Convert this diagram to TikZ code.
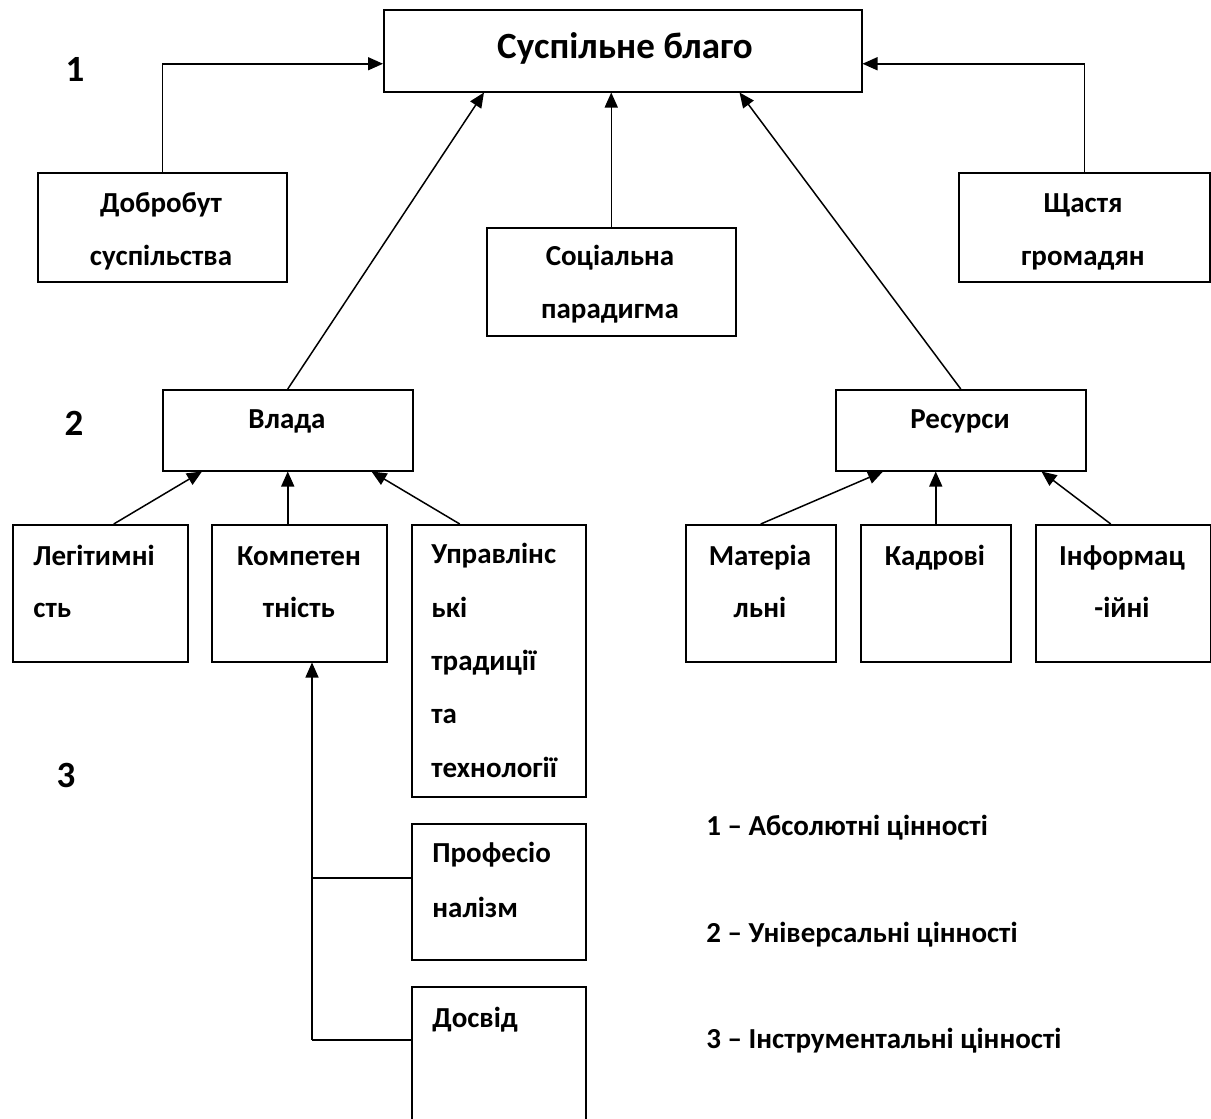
\documentclass[tikz,border=0pt]{standalone}
\usepackage{fontspec}
\setmainfont{Carlito}
\usetikzlibrary{arrows.meta}
\newcommand\dbox[5]{\node[box, minimum width={(#4-#2)*0.5pt}, minimum height={(#5-#3)*0.5pt}] (#1) at (#2,#3) {};}
\begin{document}
\begin{tikzpicture}[x=0.5pt,y=-0.5pt,
  box/.style={draw, line width=0.75pt, inner sep=0pt, anchor=north west},
  txt/.style={inner sep=0pt, font=\fontsize{14.5}{16}\selectfont\bfseries},
  ctxt/.style={txt, anchor=base},
  ltxt/.style={txt, anchor=base west},
  big/.style={inner sep=0pt, anchor=base, font=\fontsize{18.5}{20}\selectfont\bfseries},
  arr/.style={line width=0.75pt, -{Triangle[length=7.5pt,width=6.5pt]}},
  ln/.style={line width=0.75pt}]
\useasboundingbox (0,0) rectangle (1211,1119);
% boxes
\dbox{top}{383}{9}{861}{91}
\dbox{dob}{37}{172}{286}{281}
\dbox{soc}{486}{227}{735}{335}
\dbox{sch}{958}{172}{1209}{281}
\dbox{vlada}{162}{389}{412}{470}
\dbox{res}{835}{389}{1085}{470}
\dbox{leg}{12}{524}{187}{661}
\dbox{komp}{211}{524}{386}{661}
\dbox{upr}{411}{524}{585}{796}
\dbox{mat}{685}{524}{835}{661}
\dbox{kad}{860}{524}{1010}{661}
\dbox{inf}{1035}{524}{1210}{661}
\dbox{prof}{411}{823}{585}{959}
\dbox{dos}{411}{986}{585}{1125}
% connectors
\draw[arr] (dob.north) |- ([yshift=-6.5pt]top.west);
\draw[arr] (sch.north) |- ([yshift=-6.5pt]top.east);
\draw[arr] (soc.north) -- (soc.north |- top.south);
\draw[arr] (vlada.north) -- ([xshift=50.5pt]top.south west);
\draw[arr] (res.north) -- ([xshift=-61.5pt]top.south east);
\draw[arr] ([xshift=6.75pt]leg.north) -- ([xshift=20pt]vlada.south west);
\draw[arr] (vlada.south |- komp.north) -- (vlada.south);
\draw[arr] ([xshift=-19.5pt]upr.north) -- ([xshift=-21pt]vlada.south east);
\draw[arr] (mat.north) -- ([xshift=24pt]res.south west);
\draw[arr] (kad.north) -- (kad.north |- res.south);
\draw[arr] ([xshift=-6.25pt]inf.north) -- ([xshift=-22.5pt]res.south east);
\coordinate (j1) at (312,878);
\coordinate (j2) at (312,1040);
\draw[ln] (prof.west |- j1) -- (j1);
\draw[ln] (dos.west |- j2) -- (j2);
\draw[arr] (j2) -- (j2 |- komp.south);
% texts
\node[big] (ttop) at (625,58) {Суспільне благо};
\node[big] (n1) at (75,81) {1};
\node[big] (n2) at (74,435) {2};
\node[big] (n3) at (66,787) {3};
\node[ctxt] (tdob1) at (161,212) {Добробут};
\node[ctxt] (tdob2) at (161,265) {суспільства};
\node[ctxt] (tsoc1) at (610,265) {Соціальна};
\node[ctxt] (tsoc2) at (610,318) {парадигма};
\node[ctxt] (tsch1) at (1083,212) {Щастя};
\node[ctxt] (tsch2) at (1083,265) {громадян};
\node[ctxt] (tvl) at (287,428) {Влада};
\node[ctxt] (tres) at (960,428) {Ресурси};
\node[ltxt] (tleg1) at (33,565) {Легітимні};
\node[ltxt] (tleg2) at (33,617) {сть};
\node[ctxt] (tkomp1) at (299,565) {Компетен};
\node[ctxt] (tkomp2) at (299,617) {тність};
\node[ltxt] (tupr1) at (431,563) {Управлінс};
\node[ltxt] (tupr2) at (431,617) {ькі};
\node[ltxt] (tupr3) at (431,670) {традиції};
\node[ltxt] (tupr4) at (431,723) {та};
\node[ltxt] (tupr5) at (431,777) {технології};
\node[ctxt] (tmat1) at (760,565) {Матеріа};
\node[ctxt] (tmat2) at (760,617) {льні};
\node[ctxt] (tkad) at (935,565) {Кадрові};
\node[ctxt] (tinf1) at (1122,565) {Інформац};
\node[ctxt] (tinf2) at (1122,617) {-ійні};
\node[ltxt] (tprof1) at (432,862) {Професіо};
\node[ltxt] (tprof2) at (432,917) {налізм};
\node[ltxt] (tdos) at (432,1027) {Досвід};
\node[ltxt] (leg1) at (706,835) {1 – Абсолютні цінності};
\node[ltxt] (leg2) at (706,942) {2 – Універсальні цінності};
\node[ltxt] (leg3) at (706,1048) {3 – Інструментальні цінності};
\end{tikzpicture}
\end{document}
